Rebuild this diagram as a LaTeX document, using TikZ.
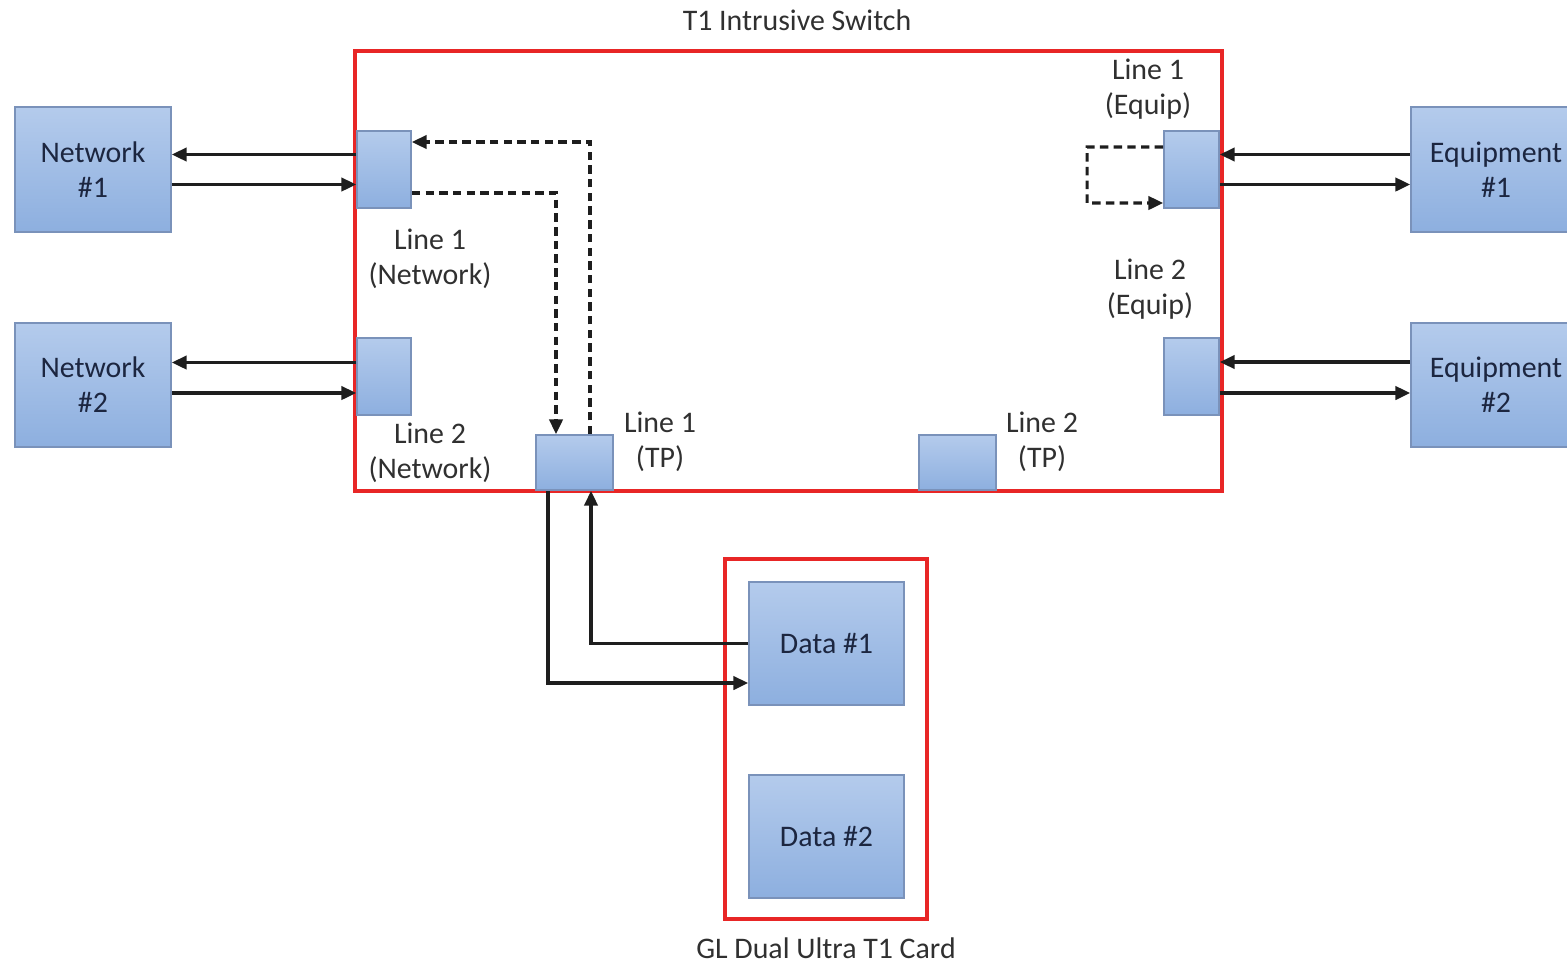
\documentclass[tikz,border=0pt]{standalone}
\usepackage{fontspec}
\setmainfont{Carlito}
\usetikzlibrary{calc,arrows.meta}

\definecolor{blktop}{RGB}{180,203,236}
\definecolor{blkbot}{RGB}{141,175,223}
\definecolor{blkline}{RGB}{122,146,186}
\definecolor{blktext}{RGB}{28,38,64}
\definecolor{frred}{RGB}{232,38,38}
\definecolor{lntext}{RGB}{48,48,48}
\definecolor{lncol}{RGB}{30,30,30}

\tikzset{
	blk/.style={draw=blkline, line width=0.5pt, top color=blktop, bottom color=blkbot,
		inner sep=0pt, text=blktext, align=center},
	frm/.style={draw=frred, line width=1.1pt, inner sep=0pt},
	lbl/.style={text=lntext, align=center, inner sep=0pt},
	arr/.style={draw=lncol, line width=0.9pt, -{Triangle[length=4.2pt,width=3.8pt]}},
	dsh/.style={arr, dash pattern=on 2.4pt off 1.5pt}
}

\begin{document}
\begin{tikzpicture}[x=0.1mm,y=-0.1mm,font=\fontsize{8.5}{10}\selectfont]
	\useasboundingbox (0,0) rectangle (1567,963);

	% frames
	\node[frm, minimum width=86.7mm, minimum height=44mm] (switch) at (788.5,271) {};
	\node[frm, minimum width=20.2mm, minimum height=36mm] (card) at (826,739) {};

	% outer boxes
	\node[blk, minimum width=15.6mm, minimum height=12.5mm] (net1) at (93,169.5) {Network\\\#1};
	\node[blk, minimum width=15.6mm, minimum height=12.4mm] (net2) at (93,385) {Network\\\#2};
	\node[blk, minimum width=17mm, minimum height=12.5mm] (eq1) at (1496,169.5) {Equipment\\\#1};
	\node[blk, minimum width=17mm, minimum height=12.4mm] (eq2) at (1496,385) {Equipment\\\#2};

	% ports
	\node[blk, minimum width=5.4mm, minimum height=7.7mm] (l1n) at (384,169.5) {};
	\node[blk, minimum width=5.4mm, minimum height=7.7mm] (l2n) at (384,376.5) {};
	\node[blk, minimum width=5.5mm, minimum height=7.7mm] (l1e) at (1191.5,169.5) {};
	\node[blk, minimum width=5.5mm, minimum height=7.7mm] (l2e) at (1191.5,376.5) {};
	\node[blk, minimum width=7.7mm, minimum height=5.5mm] (l1tp) at (574.5,462.5) {};
	\node[blk, minimum width=7.7mm, minimum height=5.5mm] (l2tp) at (957.5,462.5) {};

	% card
	\node[blk, minimum width=15.5mm, minimum height=12.3mm] (data1) at (826.5,643.5) {Data \#1};
	\node[blk, minimum width=15.5mm, minimum height=12.3mm] (data2) at (826.5,836.5) {Data \#2};

	% labels
	\node[lbl] (tswitch) at (797,20) {T1 Intrusive Switch};
	\node[lbl] (tcard) at (826,948) {GL Dual Ultra T1 Card};
	\node[lbl] (tl1n) at (430,259) {Line 1\\(Network)};
	\node[lbl] (tl2n) at (430,453) {Line 2\\(Network)};
	\node[lbl] (tl1tp) at (660,442) {Line 1\\(TP)};
	\node[lbl] (tl2tp) at (1042,442) {Line 2\\(TP)};
	\node[lbl] (tl1e) at (1148,89) {Line 1\\(Equip)};
	\node[lbl] (tl2e) at (1150,289) {Line 2\\(Equip)};

	% network side
	\draw[arr] ($(l1n.west)+(0,-15)$) -- ($(net1.east)+(0,-15)$);
	\draw[arr] ($(net1.east)+(0,15)$) -- ($(l1n.west)+(0,15)$);
	\draw[arr] ($(l2n.west)+(0,-14)$) coordinate (n2a) -- (n2a -| net2.east);
	\draw[arr] ($(net2.east)+(0,8)$) coordinate (n2b) -- (n2b -| l2n.west);

	% equipment side
	\draw[arr] ($(eq1.west)+(0,-15)$) -- ($(l1e.east)+(0,-15)$);
	\draw[arr] ($(l1e.east)+(0,15)$) -- ($(eq1.west)+(0,15)$);
	\draw[arr] ($(eq2.west)+(0,-23)$) coordinate (e2a) -- (e2a -| l2e.east);
	\draw[arr] ($(l2e.east)+(0,16.5)$) coordinate (e2b) -- (e2b -| eq2.west);

	% tap paths
	\draw[dsh] ($(l1n.east)+(0,23.5)$) -| ($(l1tp.north)+(-18.5,0)$);
	\draw[dsh] ($(l1tp.north)+(15.5,0)$) |- ($(l1n.east)+(0,-27.5)$);
	\draw[dsh] ($(l1e.west)+(0,-22.5)$) -- ++(-76,0) -- ++(0,56) -- ($(l1e.west)+(0,33.5)$);

	% to card
	\draw[arr] ($(l1tp.south)+(-26.5,0)$) |- ($(data1.west)+(0,39.5)$);
	\draw[arr] (data1.west) -| ($(l1tp.south)+(16.5,0)$);

\end{tikzpicture}
\end{document}
